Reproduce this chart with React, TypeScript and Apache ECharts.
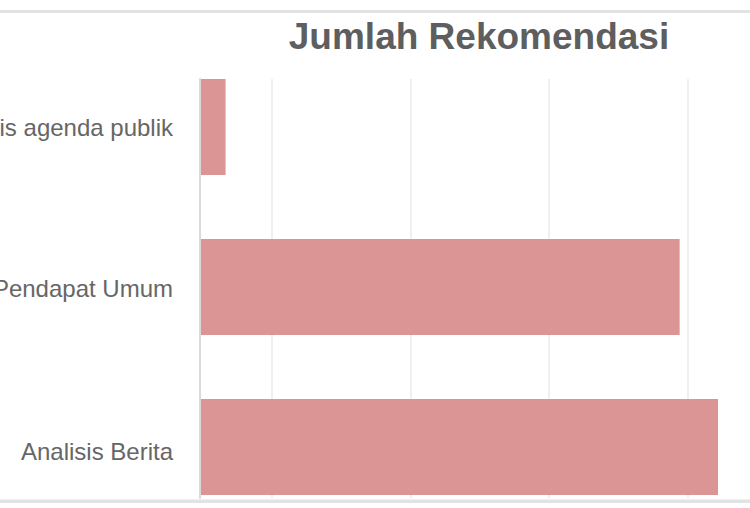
import React, { useEffect, useRef } from "react";
import * as echarts from "echarts";

const categories = ["Analisis agenda publik", "Analisis Pendapat Umum", "Analisis Berita"];
const values = [4, 75, 81];
const chartTitle = "Jumlah Rekomendasi";
const FONT = "'Liberation Sans', Arial, Helvetica, sans-serif";

export default function App() {
  const ref = useRef<HTMLDivElement>(null);
  useEffect(() => {
    if (!ref.current) return;
    const chart = echarts.init(ref.current, null, { renderer: "svg" });
    const labelStyle = { fontSize: 24, color: "#666", fontFamily: FONT };
    chart.setOption({
      animation: false,
      textStyle: { fontFamily: FONT },
      grid: [
        { left: 200, top: 47, width: 550, height: 480, containLabel: false, outerBoundsMode: "none" },
        { left: 200, top: 79, width: 600, height: 419, containLabel: false, outerBoundsMode: "none" },
      ],
      xAxis: [
        { type: "value", gridIndex: 0, min: 0, max: 86, show: false },
        {
          type: "value",
          gridIndex: 1,
          min: -0.52,
          max: 3.81,
          splitNumber: 4,
          minInterval: 1,
          maxInterval: 1,
          axisLabel: { show: false },
          axisLine: { show: false },
          axisTick: { show: false },
          splitLine: {
            show: true,
            showMinLine: false,
            showMaxLine: false,
            lineStyle: { color: "#efefef", width: 2 },
          },
        },
      ],
      yAxis: [
        {
          type: "category",
          gridIndex: 0,
          data: categories,
          inverse: true,
          axisLine: { show: false },
          axisTick: { show: false },
          splitLine: { show: false },
          axisLabel: {
            margin: 27,
            ...labelStyle,
            formatter: (value: string, index: number) => `{l${index}|${value}}`,
            rich: {
              l0: { ...labelStyle, padding: [0, 0, 0, 0] },
              l1: { ...labelStyle, padding: [3, 0, 0, 0] },
              l2: { ...labelStyle, padding: [9, 0, 0, 0] },
            },
          },
        },
        {
          type: "value",
          gridIndex: 1,
          z: 3,
          axisLine: { show: true, onZero: false, lineStyle: { color: "#d9d9d9", width: 2 } },
          axisTick: { show: false },
          axisLabel: { show: false },
          splitLine: { show: false },
        },
      ],
      series: [
        {
          type: "bar",
          xAxisIndex: 0,
          yAxisIndex: 0,
          data: values,
          barWidth: "60%",
          itemStyle: { color: "#da9594" },
        },
      ],
      graphic: [
        { type: "rect", silent: true, shape: { x: 0, y: 10, width: 750, height: 3 }, style: { fill: "#e2e2e2" } },
        { type: "rect", silent: true, shape: { x: 0, y: 499.5, width: 750, height: 3.5 }, style: { fill: "#e2e2e2" } },
        {
          type: "text",
          silent: true,
          x: 479,
          y: 36,
          style: {
            text: chartTitle,
            fill: "#5e5e5e",
            font: "bold 37px " + FONT,
            align: "center",
            verticalAlign: "middle",
            textAlign: "center",
            textVerticalAlign: "middle",
          },
        },
      ],
    });
    return () => chart.dispose();
  }, []);
  return <div ref={ref} style={{ position: "absolute", left: 0, top: 0, width: 750, height: 508 }} />;
}
